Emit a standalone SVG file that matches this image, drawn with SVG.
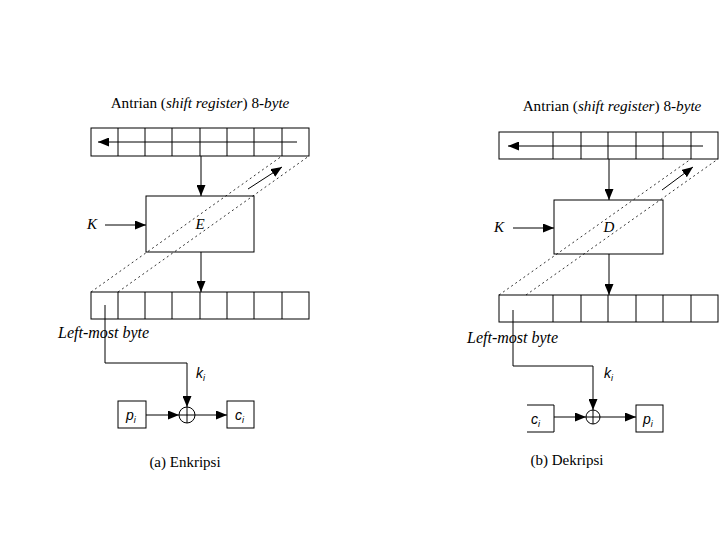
<svg xmlns="http://www.w3.org/2000/svg" width="720" height="540" viewBox="0 0 720 540">
<defs>
<marker id="ah" markerUnits="userSpaceOnUse" markerWidth="11" markerHeight="9" refX="11" refY="4.5" orient="auto">
<path d="M0,0 L11,4.5 L0,9 z" fill="#000"/>
</marker>
<style>
.b{fill:#fff;stroke:#000;stroke-width:1}
.l{fill:none;stroke:#000;stroke-width:1}
.a{fill:none;stroke:#000;stroke-width:1;marker-end:url(#ah)}
.d{fill:none;stroke:#000;stroke-width:0.8;stroke-dasharray:2,3}
.s{font-family:"Liberation Serif","Times New Roman",serif;font-size:15px;fill:#000}
.t{font-size:15.2px}
.m{font-size:16px}
.i{font-style:italic}
.h{font-family:"Liberation Sans",Arial,sans-serif;font-size:14px;font-style:italic;fill:#000}
.sub{font-size:9px}
</style>
</defs>
<rect width="720" height="540" fill="#fff"/>

<g id="left">
<text class="s t" x="200" y="108" text-anchor="middle">Antrian (<tspan class="i">shift register</tspan>) 8-<tspan class="i">byte</tspan></text>
<g id="reg-top-a">
<rect class="b" x="91" y="128" width="218" height="28"/>
<path class="l" d="M118,128V156M145,128V156M172,128V156M200,128V156M227,128V156M254,128V156M282,128V156"/>
</g>
<g id="box-E">
<rect class="b" x="146" y="196" width="108" height="56"/>
<text class="s i" x="200" y="229" text-anchor="middle">E</text>
</g>
<text id="K-a" class="s i" x="92" y="229" text-anchor="middle">K</text>
<g id="reg-bot-a">
<rect class="b" x="91" y="292" width="218" height="27"/>
<path class="l" d="M118,292V319M145,292V319M172,292V319M200,292V319M227,292V319M254,292V319M282,292V319"/>
</g>
<text id="lmb-a" class="s m i" x="58" y="338">Left-most byte</text>
<text id="ki-a" class="h" x="196" y="378">k<tspan class="sub" dy="3">i</tspan></text>
<g id="pi-a">
<rect class="b" x="118" y="401" width="28" height="27"/>
<text class="h" x="126" y="420">p<tspan class="sub" dy="3">i</tspan></text>
</g>
<g id="ci-a">
<rect class="b" x="227" y="401" width="27" height="27"/>
<text class="h" x="235" y="420">c<tspan class="sub" dy="3">i</tspan></text>
</g>
<g id="xor-a">
<circle class="b" cx="187" cy="415" r="8"/>
<path class="l" d="M179,415H195M187,407V423"/>
</g>
<text id="cap-a" class="s" x="185" y="467" text-anchor="middle">(a) Enkripsi</text>
</g>

<g id="right">
<text class="s t" x="612" y="111" text-anchor="middle">Antrian (<tspan class="i">shift register</tspan>) 8-<tspan class="i">byte</tspan></text>
<g id="reg-top-b">
<rect class="b" x="499" y="132" width="219" height="27"/>
<path class="l" d="M553,132V159M581,132V159M608,132V159M636,132V159M663,132V159M691,132V159"/>
</g>
<g id="box-D">
<rect class="b" x="554" y="200" width="109" height="54"/>
<text class="s i" x="609" y="232" text-anchor="middle">D</text>
</g>
<text id="K-b" class="s i" x="499" y="232" text-anchor="middle">K</text>
<g id="reg-bot-b">
<rect class="b" x="499" y="295" width="219" height="27"/>
<path class="l" d="M553,295V322M581,295V322M608,295V322M636,295V322M663,295V322M691,295V322"/>
</g>
<text id="lmb-b" class="s m i" x="467" y="343">Left-most byte</text>
<text id="ki-b" class="h" x="604" y="378">k<tspan class="sub" dy="3">i</tspan></text>
<g id="ci-b">
<path class="l" d="M527,405H554V432H527"/>
<text class="h" x="531" y="424">c<tspan class="sub" dy="3">i</tspan></text>
</g>
<g id="pi-b">
<rect class="b" x="636" y="405" width="27" height="27"/>
<text class="h" x="643" y="424">p<tspan class="sub" dy="3">i</tspan></text>
</g>
<g id="xor-b">
<circle class="b" cx="593" cy="417" r="7"/>
<path class="l" d="M586,417H600M593,410V424"/>
</g>
<text id="cap-b" class="s" x="567" y="465" text-anchor="middle">(b) Dekripsi</text>
</g>

<g id="connectors">
<path class="a" d="M297,142H98"/>
<path class="a" d="M201,156V196"/>
<path class="a" d="M105,225H146"/>
<path class="a" d="M201,252V292"/>
<path class="d" d="M91,292L282,156"/>
<path class="d" d="M118,292L309,156"/>
<path class="a" d="M248,189L282,167"/>
<path class="a" d="M105,305V363H187V407"/>
<path class="a" d="M146,415H179"/>
<path class="a" d="M195,415H227"/>

<path class="a" d="M703,146H508"/>
<path class="a" d="M609,159V200"/>
<path class="a" d="M513,228H554"/>
<path class="a" d="M609,254V295"/>
<path class="d" d="M499,295L691,159"/>
<path class="d" d="M526,295L718,159"/>
<path class="a" d="M662,190L693,167"/>
<path class="a" d="M513,310V366H593V410"/>
<path class="a" d="M554,417H586"/>
<path class="a" d="M600,417H636"/>
</g>
</svg>
